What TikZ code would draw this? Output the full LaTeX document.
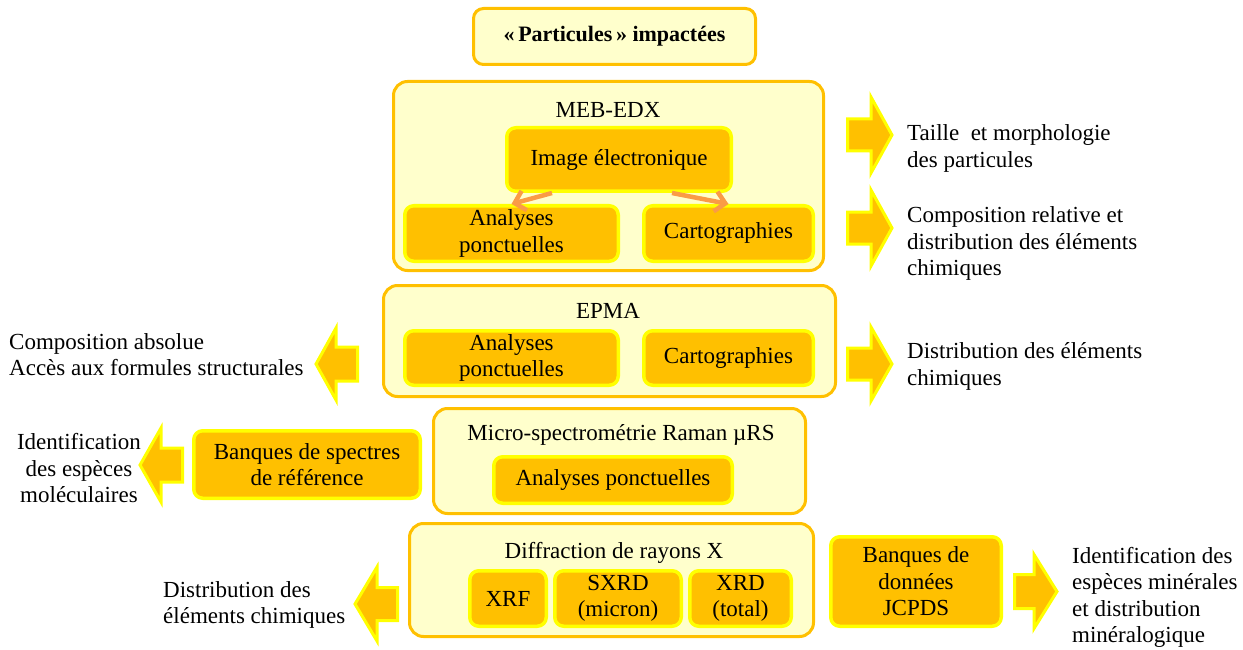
\documentclass[tikz,border=0pt]{standalone}
\usepackage{fontspec}
\setmainfont{Liberation Serif}
\usetikzlibrary{arrows.meta}
\definecolor{gold}{RGB}{255,192,0}
\definecolor{ybord}{RGB}{255,255,0}
\definecolor{pale}{RGB}{255,255,204}
\definecolor{conn}{RGB}{250,155,70}
\newcommand\blockarr[6]{\draw[blockarrow] (#1,#4-#5) -- (#2,#4-#5) -- (#2,#4-#6) -- (#3,#4) -- (#2,#4+#6) -- (#2,#4+#5) -- (#1,#4+#5) -- cycle;}
\begin{document}
\begin{tikzpicture}[x=1pt,y=-1pt,
  every node/.style={font=\fontsize{23}{26.5}\selectfont},
  outerbox/.style={draw=gold, fill=pale, line width=3pt, rounded corners=14pt, inner sep=0pt},
  innerbox/.style={draw=ybord, fill=gold, line width=3.5pt, rounded corners=9pt, align=center, inner sep=0pt},
  lbl/.style={anchor=base, inner sep=0pt},
  freetext/.style={inner sep=0pt, align=left, anchor=west},
  blockarrow/.style={draw=ybord, fill=gold, line width=3pt, line join=miter},
  linkarrow/.style={draw=conn, line width=4.5pt, -{Straight Barb[length=10pt,width=20pt]}}
]
\path[use as bounding box, fill=white] (0,0) rectangle (1243,650);

% top box
\node[outerbox, rounded corners=10pt, minimum width=282, minimum height=56,
      font={\fontsize{22}{26}\selectfont\bfseries}] (top) at (614.5,36.5) {«\,Particules\,» impactées};

% MEB-EDX
\node[outerbox, minimum width=430, minimum height=189] (meb) at (608.5,176) {};
\node[lbl] (mebl) at (608,118) {MEB-EDX};
\node[innerbox, minimum width=224.5, minimum height=63.5] (img) at (619,159.5) {Image électronique};
\node[innerbox, minimum width=213.5, minimum height=55.5] (mebAP) at (511.5,233.5) {Analyses\\ponctuelles};
\node[innerbox, minimum width=169.5, minimum height=55.5] (mebC) at (728.5,233.5) {Cartographies};

% EPMA
\node[outerbox, minimum width=452, minimum height=111] (epma) at (609.5,341) {};
\node[lbl] (epmal) at (608,318) {EPMA};
\node[innerbox, minimum width=213.5, minimum height=54.5] (epmaAP) at (511.5,358) {Analyses\\ponctuelles};
\node[innerbox, minimum width=169.5, minimum height=54.5] (epmaC) at (728.5,358) {Cartographies};

% Raman
\node[outerbox, minimum width=372, minimum height=105] (raman) at (619.5,461) {};
\node[lbl] (ramanl) at (621,440) {Micro-spectrométrie Raman µRS};
\node[innerbox, minimum width=238.5, minimum height=46.5] (ramanAP) at (613,480) {Analyses ponctuelles};
\node[innerbox, minimum width=226.5, minimum height=67.5] (banqS) at (307,464.5) {Banques de spectres\\de référence};

% DRX
\node[outerbox, minimum width=404, minimum height=113] (drx) at (611.5,580) {};
\node[lbl] (drxl) at (614,558) {Diffraction de rayons X};
\node[innerbox, minimum width=76.5, minimum height=55.5] (xrf) at (508,598.5) {XRF};
\node[innerbox, minimum width=126.5, minimum height=55.5] (sxrd) at (618,598.5) {SXRD\\(micron)};
\node[innerbox, minimum width=101.5, minimum height=55.5] (xrd) at (740.5,598.5) {XRD\\(total)};
\node[innerbox, minimum width=170.5, minimum height=89.5] (jcpds) at (916,581.5) {Banques de\\données\\JCPDS};

% block arrows
\blockarr{847.5}{871}{892}{135}{16}{38}
\blockarr{847.5}{871}{892}{228}{16}{38}
\blockarr{847.5}{871}{892}{364}{16}{37}
\blockarr{1014.5}{1034}{1057}{591.5}{17}{37}
\blockarr{357.5}{336}{316}{364}{17}{36}
\blockarr{182.5}{161}{140}{465}{17}{37}
\blockarr{397.5}{377}{355}{604}{16.5}{37}

% free texts
\node[freetext] (t1) at (907,148.5) {Taille~ et morphologie\\des particules};
\node[freetext] (t2) at (907,243.5) {Composition relative et\\distribution des éléments\\chimiques};
\node[freetext] (t3) at (907,366.5) {Distribution des éléments\\chimiques};
\node[freetext] (t4) at (9,354.5) {Composition absolue\\Accès aux formules structurales};
\node[inner sep=0pt, align=center] (t5) at (79,468.5) {Identification\\des espèces\\moléculaires};
\node[freetext] (t6) at (163,605) {Distribution des\\éléments chimiques};
\node[freetext] (t7) at (1072,597.5) {Identification des\\espèces minérales\\et distribution\\minéralogique};

% connectors
\draw[linkarrow] ([xshift=-67pt]img.south) -- (mebAP.north);
\draw[linkarrow] ([xshift=53pt]img.south) -- (mebC.north);
\end{tikzpicture}
\end{document}
